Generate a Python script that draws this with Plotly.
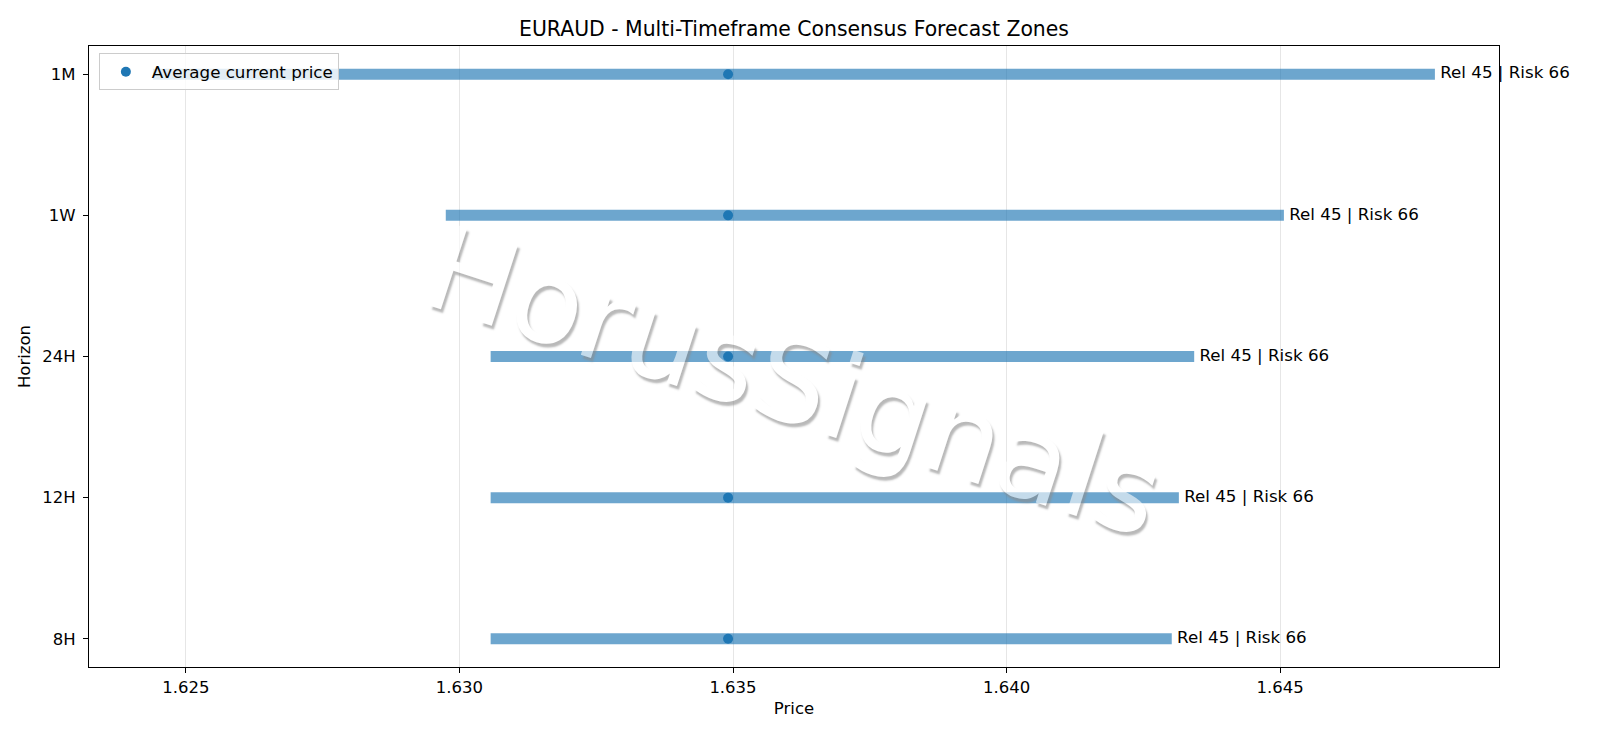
import plotly.graph_objects as go

# forecast zones per horizon
horizons = ["8H", "12H", "24H", "1W", "1M"]
zone_low = [1.63057, 1.63057, 1.63057, 1.62975, 1.62440]
zone_high = [1.64302, 1.64315, 1.64343, 1.64507, 1.64783]
current_price = [1.63491, 1.63491, 1.63491, 1.63491, 1.63491]
reliability = [45, 45, 45, 45, 45]
risk = [66, 66, 66, 66, 66]

title = "EURAUD - Multi-Timeframe Consensus Forecast Zones"
watermark = "HorusSignals"
tick_vals = [1.625, 1.630, 1.635, 1.640, 1.645]

FONT = "DejaVu Sans, Liberation Sans, sans-serif"
BLUE = "#1f77b4"
# page body keeps its default 8px margin, so the figure is 8px smaller
W, H = 1592, 730


def addZone(fig, lo, hi, h):
    fig.add_trace(go.Scatter(
        x=[lo, hi], y=[h, h],
        mode="lines",
        line={"color": "rgba(31,119,180,0.65)", "width": 11},
        showlegend=False,
        hoverinfo="skip"))
    return fig


fig = go.Figure()
for lo, hi, h in zip(zone_low, zone_high, horizons):
    fig = addZone(fig, lo, hi, h)

# labels at the right end of each zone
labels = ["Rel %d | Risk %d" % (r, k) for r, k in zip(reliability, risk)]
fig.add_trace(go.Scatter(
    x=zone_high, y=horizons,
    mode="text",
    text=[" " + t for t in labels],
    textposition="middle right",
    textfont={"size": 16.7, "color": "black", "family": FONT},
    cliponaxis=False,
    showlegend=False,
    hoverinfo="skip"))

fig.add_trace(go.Scatter(
    x=current_price, y=horizons,
    mode="markers",
    name="Average current price",
    marker={"size": 10, "color": BLUE}))

x_lo = min(zone_low)
x_hi = max(zone_high)
pad = (x_hi - x_lo) * 0.05

fig.update_layout(
    width=W, height=H,
    plot_bgcolor="white", paper_bgcolor="white",
    font={"family": FONT, "size": 16.5, "color": "black"},
    margin={"l": 81, "r": 101, "t": 38, "b": 71, "autoexpand": False},
    title={"text": title, "x": 0.5, "xanchor": "center",
           "xref": "paper",
           "y": 1 - 21 / H, "yanchor": "middle",
           "font": {"size": 20.4, "family": FONT}},
    showlegend=True,
    legend={"x": 0.007, "y": 0.988, "xanchor": "left", "yanchor": "top",
            "bgcolor": "rgba(255,255,255,0.8)", "bordercolor": "#cccccc",
            "borderwidth": 1, "itemwidth": 42,
            "font": {"size": 16.7, "family": FONT}},
)

fig.update_xaxes(
    range=[x_lo - pad, x_hi + pad],
    tickvals=tick_vals, ticktext=["%.3f" % v for v in tick_vals],
    showgrid=True, gridcolor="#e6e6e6", gridwidth=1,
    zeroline=False,
    showline=True, linecolor="black", linewidth=1.2, mirror=True,
    ticks="outside", ticklen=5, tickcolor="black",
    title={"text": "Price", "standoff": 6, "font": {"size": 16.5}})

fig.update_yaxes(
    type="category", categoryorder="array", categoryarray=horizons,
    range=[-0.2, len(horizons) - 1 + 0.2],
    showgrid=False, zeroline=False,
    showline=True, linecolor="black", linewidth=1.2, mirror=True,
    ticks="outside", ticklen=5, tickcolor="black", ticklabelstandoff=4,
    title={"text": "Horizon", "standoff": 7, "font": {"size": 16.5}})

# rotated watermark over the plot
fig.add_annotation(
    text=watermark, xref="paper", yref="paper",
    x=0.5, y=0.46, showarrow=False, textangle=18,
    opacity=0.6,
    font={"size": 117, "color": "white", "family": FONT,
          "shadow": "3px 3px 2px #8c8c8c"})

fig.write_html("out.html")
